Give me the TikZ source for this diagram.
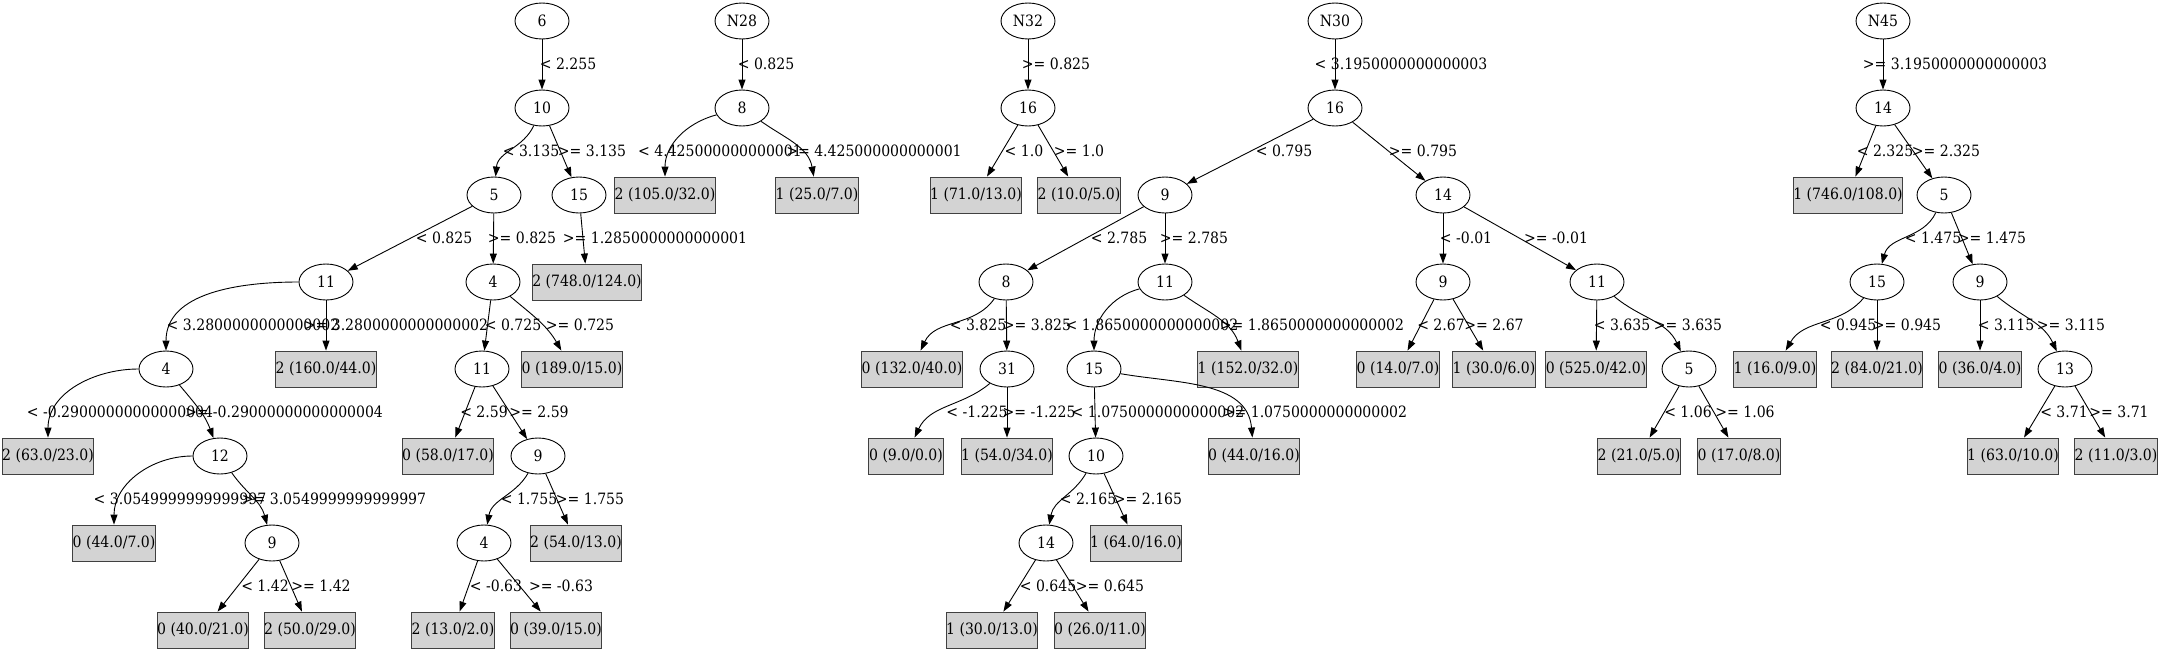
\documentclass[tikz,border=0pt]{standalone}
\usepackage{fontspec}
\setmainfont{DejaVu Serif}[FakeStretch=0.9]
\usetikzlibrary{shapes.geometric,arrows.meta}
\definecolor{lgray}{HTML}{D3D3D3}
\begin{document}
\begin{tikzpicture}[x=1pt,y=-1pt,
  every node/.style={font=\fontsize{15.6}{18}\selectfont},
  inner/.style={ellipse,draw,line width=0.9pt,minimum width=54pt,minimum height=36pt,inner sep=0pt},
  leaf/.style={rectangle,draw=black!75,fill=lgray,minimum width=#1,minimum height=36pt,inner sep=0pt,line width=0.9pt},
  lbl/.style={inner sep=0pt},
  conn/.style={draw,line width=0.9pt,-{Triangle[length=10pt,width=7pt]}}]
\useasboundingbox (0,0) rectangle (2163,653);
% ---------------- tree 1
\node[inner] (a6) at (542,21) {6};
\node[inner] (a10) at (542,108) {10};
\node[inner] (a5) at (494,195) {5};
\node[inner] (a15) at (579,195) {15};
\node[inner] (a11) at (326,282) {11};
\node[inner] (a4) at (493,282) {4};
\node[leaf=103pt] (aL748) at (587,282) {2 (748.0/124.0)};
\node[inner] (a4b) at (166,369) {4};
\node[leaf=96pt] (aL160) at (326,369) {2 (160.0/44.0)};
\node[inner] (a11b) at (482,369) {11};
\node[leaf=96pt] (aL189) at (572,369) {0 (189.0/15.0)};
\node[leaf=89pt] (aL63) at (48,456) {2 (63.0/23.0)};
\node[inner] (a12) at (220,456) {12};
\node[leaf=89pt] (aL58) at (448,456) {0 (58.0/17.0)};
\node[inner] (a9) at (538,456) {9};
\node[leaf=82pt] (aL44) at (114,543) {0 (44.0/7.0)};
\node[inner] (a9b) at (272,543) {9};
\node[inner] (a4c) at (484,543) {4};
\node[leaf=89pt] (aL54) at (576,543) {2 (54.0/13.0)};
\node[leaf=89pt] (aL40) at (203,630) {0 (40.0/21.0)};
\node[leaf=89pt] (aL50) at (310,630) {2 (50.0/29.0)};
\node[leaf=82pt] (aL13) at (453,630) {2 (13.0/2.0)};
\node[leaf=89pt] (aL39) at (556,630) {0 (39.0/15.0)};
\draw[conn] (a6) -- (a10);
\draw[conn] (a10) to[out=-115,in=85] (a5);
\draw[conn] (a10) -- (a15);
\draw[conn] (a5) -- (a11);
\draw[conn] (a5) -- (a4);
\draw[conn] (a15) -- (aL748);
\draw[conn] (a11) to[out=180,in=90] (a4b);
\draw[conn] (a11) -- (aL160);
\draw[conn] (a4) -- (a11b);
\draw[conn] (a4) to[out=-40,in=120] (aL189);
\draw[conn] (a4b) to[out=180,in=90] (aL63);
\draw[conn] (a4b) to[out=-50,in=110] (a12);
\draw[conn] (a11b) -- (aL58);
\draw[conn] (a11b) -- (a9);
\draw[conn] (a12) to[out=180,in=90] (aL44);
\draw[conn] (a12) to[out=-55,in=105] (a9b);
\draw[conn] (a9) to[out=-120,in=80] (a4c);
\draw[conn] (a9) -- (aL54);
\draw[conn] (a9b) -- (aL40);
\draw[conn] (a9b) -- (aL50);
\draw[conn] (a4c) -- (aL13);
\draw[conn] (a4c) -- (aL39);
\node[lbl] (la1) at (568,64) {< 2.255};
\node[lbl] (la2) at (531,151) {< 3.135};
\node[lbl] (la3) at (592,151) {>= 3.135};
\node[lbl] (la4) at (444,238) {< 0.825};
\node[lbl] (la5) at (522,238) {>= 0.825};
\node[lbl] (la6) at (655,238) {>= 1.2850000000000001};
\node[lbl] (la7) at (253,325) {< 3.2800000000000002};
\node[lbl] (la8) at (396,325) {>= 3.2800000000000002};
\node[lbl] (la9) at (513,325) {< 0.725};
\node[lbl] (la10) at (580,325) {>= 0.725};
\node[lbl] (la11) at (120,412) {< -0.29000000000000004};
\node[lbl] (la12) at (284,412) {>= -0.29000000000000004};
\node[lbl] (la13) at (484,412) {< 2.59};
\node[lbl] (la14) at (539,412) {>= 2.59};
\node[lbl] (la15) at (180,499) {< 3.0549999999999997};
\node[lbl] (la16) at (334,499) {>= 3.0549999999999997};
\node[lbl] (la17) at (529,499) {< 1.755};
\node[lbl] (la18) at (590,499) {>= 1.755};
\node[lbl] (la19) at (265,586) {< 1.42};
\node[lbl] (la20) at (321,586) {>= 1.42};
\node[lbl] (la21) at (496,586) {< -0.63};
\node[lbl] (la22) at (561,586) {>= -0.63};
% ---------------- tree 2
\node[inner] (b28) at (742,21) {N28};
\node[inner] (b8) at (742,108) {8};
\node[leaf=96pt] (bL105) at (665,195) {2 (105.0/32.0)};
\node[leaf=82pt] (bL25) at (817,195) {1 (25.0/7.0)};
\draw[conn] (b28) -- (b8);
\draw[conn] (b8) to[out=-165,in=90] (bL105);
\draw[conn] (b8) to[out=-35,in=100] (bL25);
\node[lbl] (lb1) at (766,64) {< 0.825};
\node[lbl] (lb2) at (720,151) {< 4.425000000000001};
\node[lbl] (lb3) at (874,151) {>= 4.425000000000001};
% ---------------- tree 3
\node[inner] (c32) at (1028,21) {N32};
\node[inner] (c16) at (1028,108) {16};
\node[leaf=89pt] (cL71) at (976,195) {1 (71.0/13.0)};
\node[leaf=82pt] (cL10) at (1079,195) {2 (10.0/5.0)};
\draw[conn] (c32) -- (c16);
\draw[conn] (c16) -- (cL71);
\draw[conn] (c16) -- (cL10);
\node[lbl] (lc1) at (1056,64) {>= 0.825};
\node[lbl] (lc2) at (1024,151) {< 1.0};
\node[lbl] (lc3) at (1079,151) {>= 1.0};
% ---------------- tree 4
\node[inner] (d30) at (1335,21) {N30};
\node[inner] (d16) at (1335,108) {16};
\node[inner] (d9) at (1165,195) {9};
\node[inner] (d14) at (1443,195) {14};
\node[inner] (d8) at (1006,282) {8};
\node[inner] (d11) at (1165,282) {11};
\node[inner] (d9b) at (1443,282) {9};
\node[inner] (d11b) at (1597,282) {11};
\node[leaf=96pt] (dL132) at (912,369) {0 (132.0/40.0)};
\node[inner] (d31) at (1007,369) {31};
\node[inner] (d15) at (1094,369) {15};
\node[leaf=96pt] (dL152) at (1248,369) {1 (152.0/32.0)};
\node[leaf=82pt] (dL14) at (1398,369) {0 (14.0/7.0)};
\node[leaf=82pt] (dL30) at (1494,369) {1 (30.0/6.0)};
\node[leaf=96pt] (dL525) at (1596,369) {0 (525.0/42.0)};
\node[inner] (d5) at (1689,369) {5};
\node[leaf=75pt] (dL9) at (906,456) {0 (9.0/0.0)};
\node[leaf=89pt] (dL54) at (1007,456) {1 (54.0/34.0)};
\node[inner] (d10) at (1096,456) {10};
\node[leaf=89pt] (dL44) at (1254,456) {0 (44.0/16.0)};
\node[leaf=82pt] (dL21) at (1639,456) {2 (21.0/5.0)};
\node[leaf=82pt] (dL17) at (1739,456) {0 (17.0/8.0)};
\node[inner] (d14b) at (1046,543) {14};
\node[leaf=89pt] (dL64) at (1136,543) {1 (64.0/16.0)};
\node[leaf=89pt] (dL30b) at (992,630) {1 (30.0/13.0)};
\node[leaf=89pt] (dL26) at (1100,630) {0 (26.0/11.0)};
\draw[conn] (d30) -- (d16);
\draw[conn] (d16) -- (d9);
\draw[conn] (d16) -- (d14);
\draw[conn] (d9) -- (d8);
\draw[conn] (d9) -- (d11);
\draw[conn] (d14) -- (d9b);
\draw[conn] (d14) -- (d11b);
\draw[conn] (d8) to[out=-125,in=65] (dL132);
\draw[conn] (d8) -- (d31);
\draw[conn] (d11) to[out=-165,in=90] (d15);
\draw[conn] (d11) to[out=-35,in=110] (dL152);
\draw[conn] (d9b) -- (dL14);
\draw[conn] (d9b) -- (dL30);
\draw[conn] (d11b) -- (dL525);
\draw[conn] (d11b) to[out=-40,in=115] (d5);
\draw[conn] (d31) to[out=-140,in=65] (dL9);
\draw[conn] (d31) -- (dL54);
\draw[conn] (d15) -- (d10);
\draw[conn] (d15) to[out=-10,in=95] (dL44);
\draw[conn] (d5) -- (dL21);
\draw[conn] (d5) -- (dL17);
\draw[conn] (d10) to[out=-120,in=80] (d14b);
\draw[conn] (d10) -- (dL64);
\draw[conn] (d14b) -- (dL30b);
\draw[conn] (d14b) -- (dL26);
\node[lbl] (ld1) at (1401,64) {< 3.1950000000000003};
\node[lbl] (ld2) at (1284,151) {< 0.795};
\node[lbl] (ld3) at (1423,151) {>= 0.795};
\node[lbl] (ld4) at (1119,238) {< 2.785};
\node[lbl] (ld5) at (1194,238) {>= 2.785};
\node[lbl] (ld6) at (1466,238) {< -0.01};
\node[lbl] (ld7) at (1556,238) {>= -0.01};
\node[lbl] (ld8) at (978,325) {< 3.825};
\node[lbl] (ld9) at (1037,325) {>= 3.825};
\node[lbl] (ld10) at (1152,325) {< 1.8650000000000002};
\node[lbl] (ld11) at (1312,325) {>= 1.8650000000000002};
\node[lbl] (ld12) at (1441,325) {< 2.67};
\node[lbl] (ld13) at (1494,325) {>= 2.67};
\node[lbl] (ld14) at (1622,325) {< 3.635};
\node[lbl] (ld15) at (1688,325) {>= 3.635};
\node[lbl] (ld16) at (977,412) {< -1.225};
\node[lbl] (ld17) at (1039,412) {>= -1.225};
\node[lbl] (ld18) at (1158,412) {< 1.0750000000000002};
\node[lbl] (ld19) at (1315,412) {>= 1.0750000000000002};
\node[lbl] (ld20) at (1688,412) {< 1.06};
\node[lbl] (ld21) at (1745,412) {>= 1.06};
\node[lbl] (ld22) at (1088,499) {< 2.165};
\node[lbl] (ld23) at (1148,499) {>= 2.165};
\node[lbl] (ld24) at (1048,586) {< 0.645};
\node[lbl] (ld25) at (1110,586) {>= 0.645};
% ---------------- tree 5
\node[inner] (e45) at (1883,21) {N45};
\node[inner] (e14) at (1883,108) {14};
\node[leaf=103pt] (eL746) at (1848,195) {1 (746.0/108.0)};
\node[inner] (e5) at (1944,195) {5};
\node[inner] (e15) at (1877,282) {15};
\node[inner] (e9) at (1980,282) {9};
\node[leaf=82pt] (eL16) at (1775,369) {1 (16.0/9.0)};
\node[leaf=89pt] (eL84) at (1877,369) {2 (84.0/21.0)};
\node[leaf=82pt] (eL36) at (1980,369) {0 (36.0/4.0)};
\node[inner] (e13) at (2065,369) {13};
\node[leaf=89pt] (eL63) at (2013,456) {1 (63.0/10.0)};
\node[leaf=82pt] (eL11) at (2116,456) {2 (11.0/3.0)};
\draw[conn] (e45) -- (e14);
\draw[conn] (e14) -- (eL746);
\draw[conn] (e14) -- (e5);
\draw[conn] (e5) to[out=-115,in=75] (e15);
\draw[conn] (e5) -- (e9);
\draw[conn] (e15) to[out=-130,in=60] (eL16);
\draw[conn] (e15) -- (eL84);
\draw[conn] (e9) -- (eL36);
\draw[conn] (e9) to[out=-40,in=115] (e13);
\draw[conn] (e13) -- (eL63);
\draw[conn] (e13) -- (eL11);
\node[lbl] (le1) at (1955,64) {>= 3.1950000000000003};
\node[lbl] (le2) at (1885,151) {< 2.325};
\node[lbl] (le3) at (1946,151) {>= 2.325};
\node[lbl] (le4) at (1933,238) {< 1.475};
\node[lbl] (le5) at (1992,238) {>= 1.475};
\node[lbl] (le6) at (1848,325) {< 0.945};
\node[lbl] (le7) at (1907,325) {>= 0.945};
\node[lbl] (le8) at (2006,325) {< 3.115};
\node[lbl] (le9) at (2071,325) {>= 3.115};
\node[lbl] (le10) at (2064,412) {< 3.71};
\node[lbl] (le11) at (2119,412) {>= 3.71};
\end{tikzpicture}
\end{document}
